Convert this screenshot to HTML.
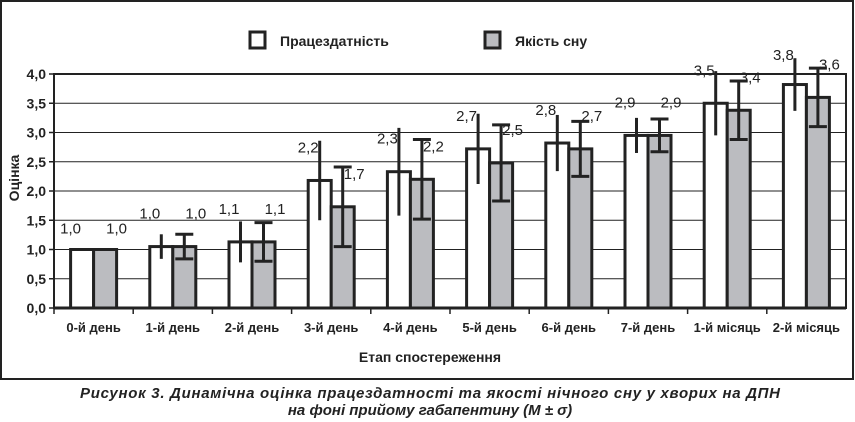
<!DOCTYPE html>
<html><head><meta charset="utf-8"><style>
body{margin:0;background:#fff}
svg{display:block;font-family:"Liberation Sans",sans-serif}
</style></head><body>
<svg width="855" height="422" viewBox="0 0 855 422">
<rect x="1" y="1" width="852" height="378" fill="none" stroke="#222" stroke-width="2"/>
<g id="grid"></g><g id="bars"></g><g id="axes"></g>
<rect x="250" y="32" width="15" height="16" fill="#fff" stroke="#222" stroke-width="3"/>
<text x="280" y="46" font-size="14" font-weight="bold" fill="#222">Працездатність</text>
<rect x="485" y="32" width="15" height="16" fill="#bbbcc0" stroke="#222" stroke-width="3"/>
<text x="515" y="46" font-size="14" font-weight="bold" fill="#222">Якість сну</text>
<text transform="translate(19,178) rotate(-90)" text-anchor="middle" font-size="14" font-weight="bold" fill="#222">Оцінка</text>
<text x="430" y="362" text-anchor="middle" font-size="14" font-weight="bold" fill="#222">Етап спостереження</text>
<text x="430" y="398" text-anchor="middle" font-size="15" font-weight="bold" font-style="italic" fill="#222" textLength="700">Рисунок 3. Динамічна оцінка працездатності та якості нічного сну у хворих на ДПН</text>
<text x="430" y="415" text-anchor="middle" font-size="15" font-weight="bold" font-style="italic" fill="#222">на фоні прийому габапентину (М ± σ)</text>
</svg>
<script>
const categories=["0-й день","1-й день","2-й день","3-й день","4-й день","5-й день","6-й день","7-й день","1-й місяць","2-й місяць"];
const workValues=[1.0,1.05,1.13,2.18,2.33,2.72,2.82,2.95,3.5,3.82];
const sleepValues=[1.0,1.05,1.13,1.73,2.2,2.48,2.72,2.95,3.38,3.6];
const workErr=[0,0.21,0.35,0.68,0.75,0.6,0.48,0.3,0.55,0.45];
const sleepErr=[0,0.21,0.33,0.68,0.68,0.65,0.47,0.28,0.5,0.5];
const workLabels=["1,0","1,0","1,1","2,2","2,3","2,7","2,8","2,9","3,5","3,8"];
const sleepLabels=["1,0","1,0","1,1","1,7","2,2","2,5","2,7","2,9","3,4","3,6"];
const yTicks=[0,0.5,1,1.5,2,2.5,3,3.5,4];
const yTickLabels=["0,0","0,5","1,0","1,5","2,0","2,5","3,0","3,5","4,0"];
const NS="http://www.w3.org/2000/svg";
const L=54,R=846,T=74,B=308,yMax=4;
const y=v=>B-(B-T)*v/yMax;
const bw=(R-L)/categories.length;
const cx=i=>L+bw*(i+0.5);
const BW=23;
function mk(tag,attrs,parent,text){const e=document.createElementNS(NS,tag);for(const k in attrs)e.setAttribute(k,attrs[k]);if(text!==undefined)e.textContent=text;parent.appendChild(e);return e;}
const grid=document.getElementById('grid'),bars=document.getElementById('bars'),axes=document.getElementById('axes');
yTicks.forEach((t,i)=>{
  if(t>0){const g=mk('line',{x1:L,x2:R,y1:y(t),y2:y(t),stroke:'#222','stroke-width':1},grid);
  
  }
  const tk=mk('line',{x1:L-5,x2:L,y1:y(t),y2:y(t),stroke:'#222','stroke-width':1.5},axes);
  
  
  const tl=mk('text',{x:L-8,y:y(t)+5,'text-anchor':'end','font-size':14,'font-weight':'bold',fill:'#222'},axes,yTickLabels[i]);
  
  
});
const pa=mk('rect',{x:L,y:T,width:R-L,height:B-T,fill:'none',stroke:'#222','stroke-width':2},axes);


const xa=mk('line',{x1:L,x2:R,y1:B,y2:B,stroke:'#222','stroke-width':3},axes);


categories.forEach((c,i)=>{
  const tk=mk('line',{x1:L+bw*i,x2:L+bw*i,y1:B,y2:B+6,stroke:'#222','stroke-width':1.5},axes);
  
  
  const tl=mk('text',{x:cx(i),y:B+24,'text-anchor':'middle','font-size':13,'font-weight':'bold',fill:'#222'},axes,c);
  
  
  const series=[[workValues,workErr,workLabels,'#fff',cx(i)-BW,false,'work'],[sleepValues,sleepErr,sleepLabels,'#bbbcc0',cx(i),true,'sleep']];
  series.forEach(([vals,errs,labs,fill,x0,caps,nm],s)=>{
    const v=vals[i],e=errs[i];
    const r=mk('rect',{x:x0,y:y(v),width:BW,height:B-y(v),fill:fill,stroke:'#222','stroke-width':3},bars);
    
    
    if(e>0){
      const m=x0+BW/2;
      const el=mk('line',{x1:m,x2:m,y1:y(v+e),y2:y(v-e),stroke:'#222','stroke-width':3},bars);
      
      
      if(caps){[v+e,v-e].forEach(q=>{const cp=mk('line',{x1:m-9,x2:m+9,y1:y(q),y2:y(q),stroke:'#222','stroke-width':3},bars);
        
        });}
    }
    const lx=s===0?x0:x0+BW;
    const ly=Math.max(e>0?y(v)-28:y(v)-16,T-14);
    const t=mk('text',{x:lx,y:ly,'text-anchor':'middle','font-size':15,fill:'#222'},bars,labs[i]);
    
    
  });
});
</script>
</body></html>
